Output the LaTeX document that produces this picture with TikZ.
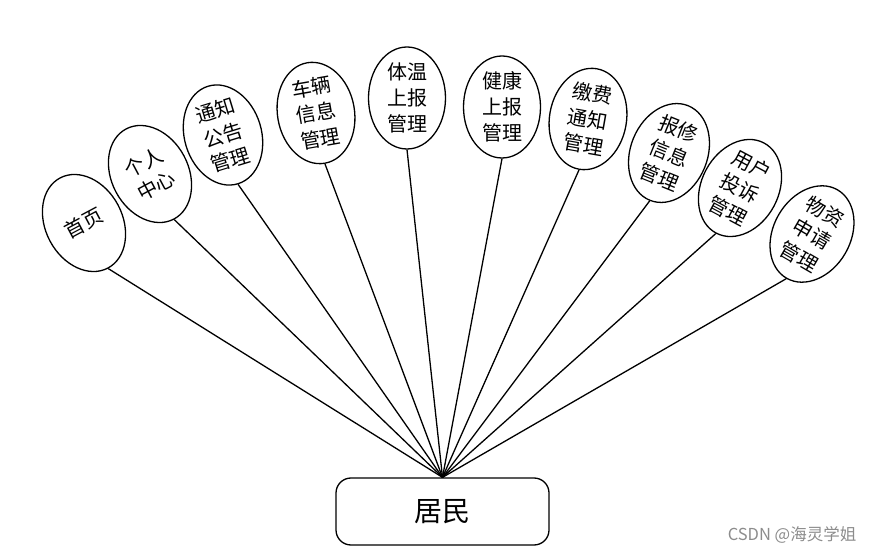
\documentclass[tikz,border=0pt]{standalone}
\usepackage{fontspec}
\setmainfont{Noto Sans CJK SC}
\usetikzlibrary{shapes.geometric}
\begin{document}
\begin{tikzpicture}[x=1pt,y=-1pt,
  bub/.style={draw, ellipse, line width=1.3pt, minimum width=77pt, minimum height=102pt, inner sep=0pt, align=center, font=\fontsize{20}{26}\selectfont},
  link/.style={line width=1.3pt},
  hubbox/.style={draw, rounded corners=15pt, line width=1.3pt, minimum width=213pt, minimum height=67pt, font=\fontsize{28}{30}\selectfont},
  wmark/.style={text=black!45, font=\fontsize{16.5}{18}\selectfont}]
\useasboundingbox (0,0) rectangle (876,553);
\node[hubbox] (jm) at (442.5,511.5) {居民};
\node[bub, rotate=28] (e1) at (84,223) {首页};
\node[bub, rotate=28] (e2) at (150,174) {个人\\中心};
\node[bub, rotate=17] (e3) at (223,135) {通知\\公告\\管理};
\node[bub, rotate=10] (e4) at (316,113) {车辆\\信息\\管理};
\node[bub, rotate=0] (e5) at (407,98) {体温\\上报\\管理};
\node[bub, rotate=0] (e6) at (502,107) {健康\\上报\\管理};
\node[bub, rotate=-10] (e7) at (588,119) {缴费\\通知\\管理};
\node[bub, rotate=-22] (e8) at (669,153) {报修\\信息\\管理};
\node[bub, rotate=-28] (e9) at (740,188) {用户\\投诉\\管理};
\node[bub, rotate=-30] (e10) at (812,234) {物资\\申请\\管理};
\foreach \i in {1,...,10} {\draw[link] (e\i.south) -- (jm.north);}
\node[wmark] (wm) at (792,535) {CSDN @海灵学姐};
\end{tikzpicture}
\end{document}
